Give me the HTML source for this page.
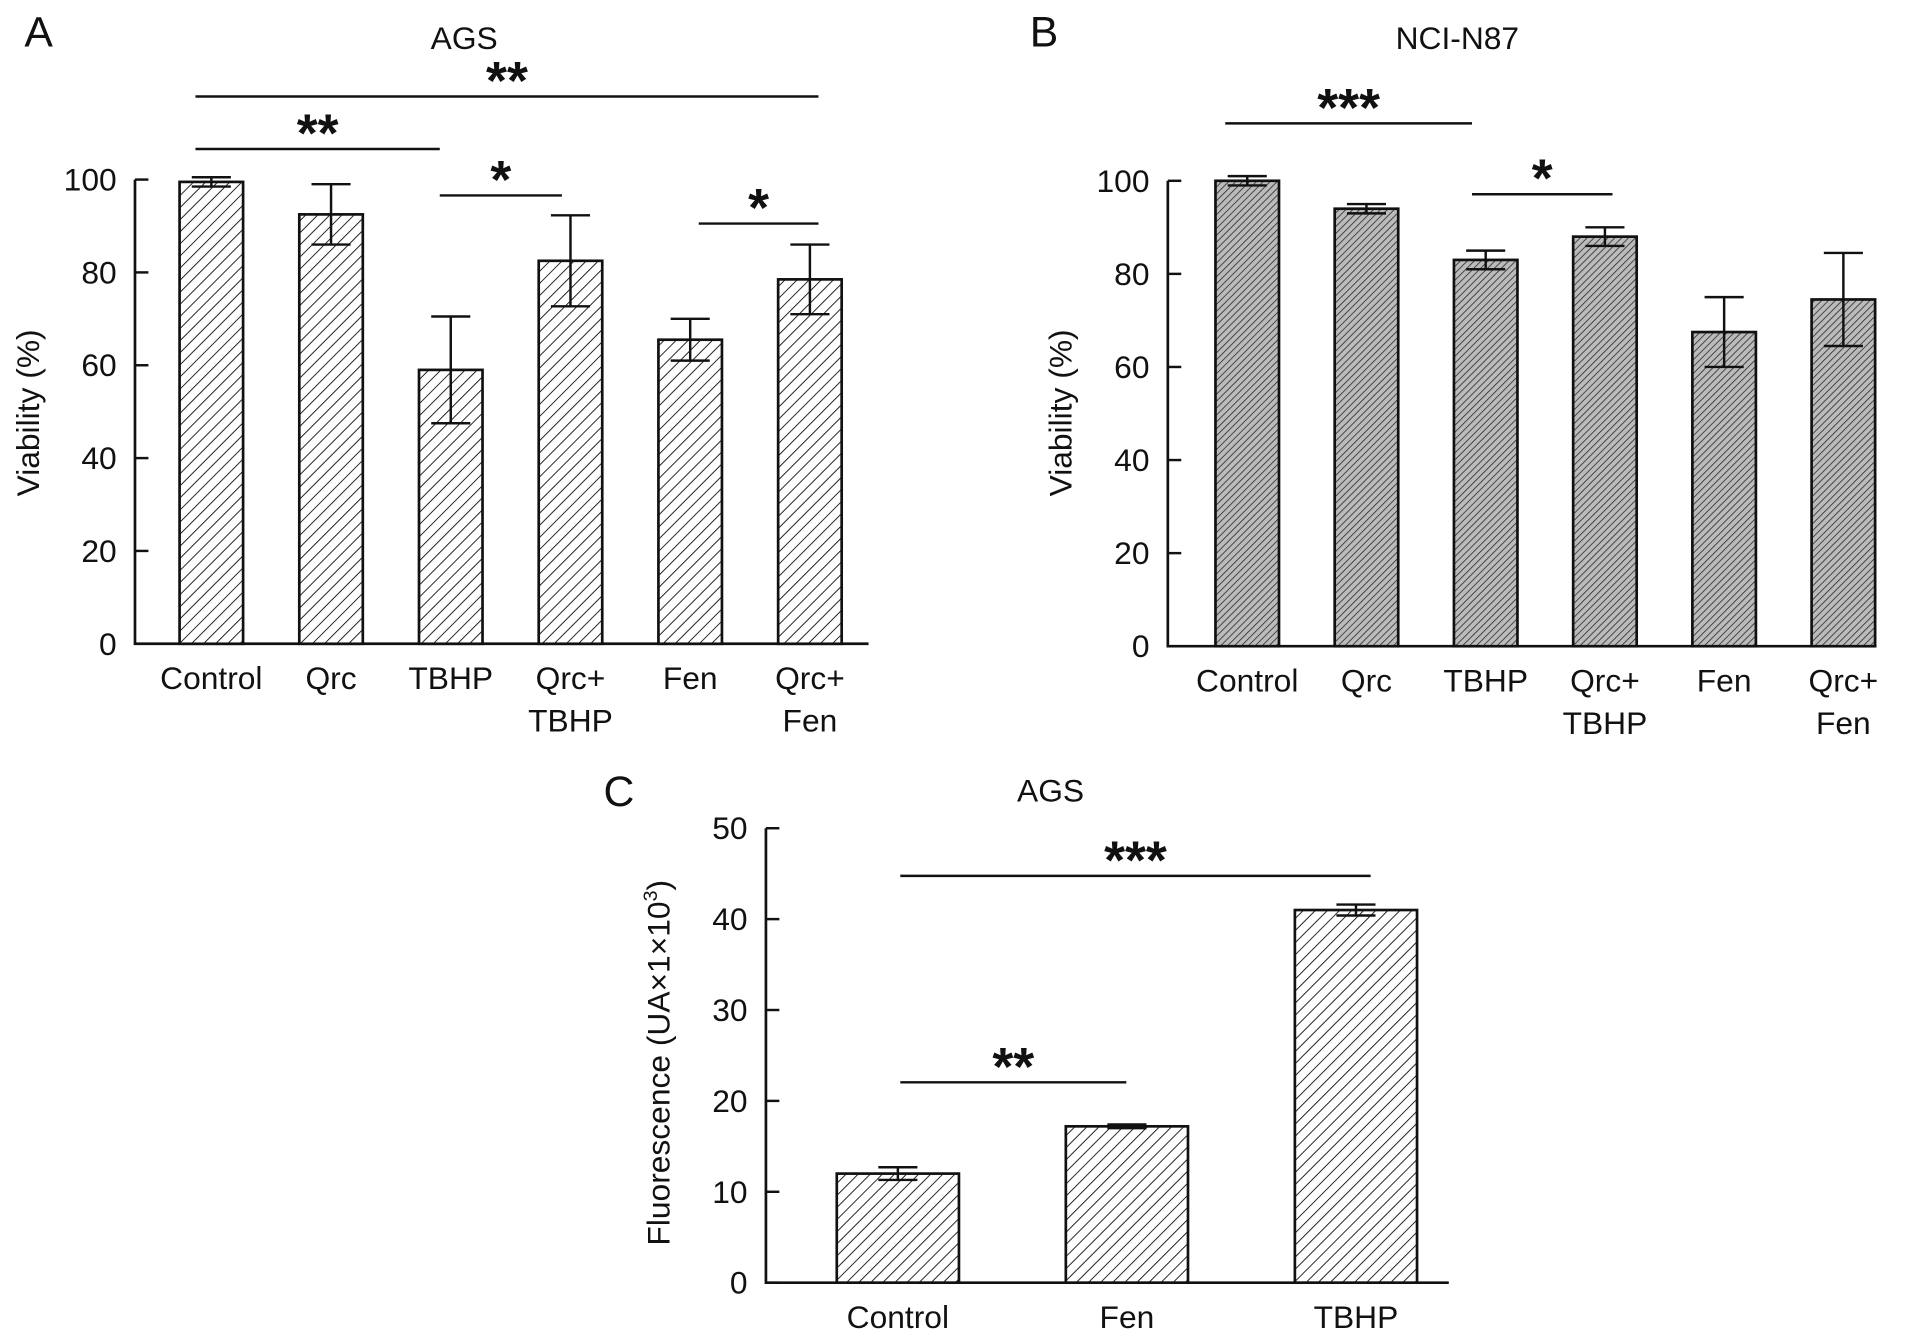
<!DOCTYPE html>
<html><head><meta charset="utf-8">
<style>
html,body{margin:0;padding:0;background:#fff;}
svg{display:block;}
text{font-family:"Liberation Sans",sans-serif;fill:#111;}
</style></head>
<body>
<svg id="fig" width="1913" height="1338" viewBox="0 0 1566 1095.3" preserveAspectRatio="none" xmlns="http://www.w3.org/2000/svg">
<defs>
<pattern id="hatchA" patternUnits="userSpaceOnUse" width="7" height="7" patternTransform="rotate(45)">
<rect width="7" height="7" fill="#fff"/><line x1="0" y1="0" x2="0" y2="7" stroke="#222" stroke-width="1.6"/>
</pattern>
<pattern id="hatchB" patternUnits="userSpaceOnUse" width="4" height="4" patternTransform="rotate(45)">
<rect width="4" height="4" fill="#bbb"/><line x1="0" y1="0" x2="0" y2="4" stroke="#333" stroke-width="1.4"/>
</pattern>
</defs>
</svg>
<script>
const catsA = ["Control","Qrc","TBHP","Qrc+\nTBHP","Fen","Qrc+\nFen"];
const valsA = [99.5,92.5,59,82.5,65.5,78.5];
const errsA = [1,6.5,11.5,9.8,4.5,7.5];
const ticksA = [0,20,40,60,80,100];
const catsB = ["Control","Qrc","TBHP","Qrc+\nTBHP","Fen","Qrc+\nFen"];
const valsB = [100,94,83,88,67.5,74.5];
const errsB = [1,1,2,2,7.5,10];
const ticksB = [0,20,40,60,80,100];
const catsC = ["Control","Fen","TBHP"];
const valsC = [12,17.2,41];
const errsC = [0.7,0.2,0.6];
const ticksC = [0,10,20,30,40,50];

const NS="http://www.w3.org/2000/svg";
const svg=document.getElementById('fig');
function mk(tag,attrs,parent){const e=document.createElementNS(NS,tag);for(const k in attrs)e.setAttribute(k,attrs[k]);(parent||svg).appendChild(e);return e;}

function panel(o){
  const g=mk('g',{});
  
  
  const y=v=>o.base-(v-o.min)/(o.max-o.min)*(o.base-o.top);
  const x=i=>o.x0+i*o.step;
  const ax=mk('path',{d:`M${o.ax} ${y(o.max)} V${o.base} H${o.axEnd}`,fill:'none',stroke:'#111','stroke-width':2.2},g);
  
  
  o.ticks.forEach(t=>{
    mk('line',{x1:o.ax,x2:o.ax+11,y1:y(t),y2:y(t),stroke:'#111','stroke-width':2},g);
    const tl=mk('text',{x:o.ax-15,y:y(t)+9,'font-size':26,'text-anchor':'end'},g);
    tl.textContent=t;
    
    
  });
  o.vals.forEach((v,i)=>{
    const b=mk('rect',{x:x(i)-o.bw/2,y:y(v),width:o.bw,height:o.base-y(v),fill:`url(#${o.hatch})`,stroke:'#111','stroke-width':2.2},g);
    
    
    const e=o.errs[i],cx=x(i);
    const eb=mk('path',{d:`M${cx} ${y(v+e)} V${y(v-e)} M${cx-16} ${y(v+e)} H${cx+16} M${cx-16} ${y(v-e)} H${cx+16}`,stroke:'#111','stroke-width':2,fill:'none'},g);
    
    
    o.cats[i].split('\n').forEach((s,k)=>{
      const t=mk('text',{x:cx,y:o.base+37+k*35,'font-size':26,'text-anchor':'middle'},g);
      t.textContent=s;
      
      
    });
  });
  const yl=mk('text',{x:0,y:0,'font-size':26,'text-anchor':'middle',transform:`translate(${o.ylx},${o.yly}) rotate(-90)`},g);
  yl.innerHTML=o.ylabel;
  
  
  const tt=mk('text',{x:o.tx,y:o.ty,'font-size':26,'text-anchor':'middle'},g);
  tt.textContent=o.title;
  
  
  const pl=mk('text',{x:o.lx,y:o.ly,'font-size':35},g);
  pl.textContent=o.letter;
  
  
  o.sig.forEach(s=>{
    const l=mk('line',{x1:s[0],x2:s[1],y1:s[2],y2:s[2],stroke:'#111','stroke-width':2},g);
    
    
    const st=mk('text',{x:(s[0]+s[1])/2,y:s[2]+2,'font-size':44,'font-weight':'bold','text-anchor':'middle'},g);
    st.textContent=s[3];
    
    
  });
}

panel({name:'panel-a-chart',cats:catsA,vals:valsA,errs:errsA,ticks:ticksA,min:0,max:100,base:527,top:147,
  ax:110.5,axEnd:711,x0:173,step:98,bw:52,hatch:'hatchA',ylabel:'Viability (%)',ylx:32,yly:338,
  title:'AGS',tx:380,ty:40,letter:'A',lx:20,ly:38,
  sig:[[160,670,79,'**'],[160,360,122,'**'],[360,460,160,'*'],[572,670,183,'*']]});
panel({name:'panel-b-chart',cats:catsB,vals:valsB,errs:errsB,ticks:ticksB,min:0,max:100,base:529,top:148,
  ax:956,axEnd:1536,x0:1021,step:97.6,bw:52,hatch:'hatchB',ylabel:'Viability (%)',ylx:877,yly:338,
  title:'NCI-N87',tx:1193,ty:40,letter:'B',lx:843,ly:38,
  sig:[[1003,1205,101,'***'],[1205,1320,159,'*']]});
panel({name:'panel-c-chart',cats:catsC,vals:valsC,errs:errsC,ticks:ticksC,min:0,max:50,base:1050,top:678,
  ax:627,axEnd:1186,x0:735,step:187.5,bw:100,hatch:'hatchA',ylabel:'Fluorescence (UA×1×10<tspan dy="-10" font-size="16">3</tspan><tspan dy="10">)</tspan>',ylx:548,yly:870,
  title:'AGS',tx:860,ty:656,letter:'C',lx:494,ly:660,
  sig:[[737,1122,717,'***'],[737,922,886,'**']]});
</script>
</body></html>
